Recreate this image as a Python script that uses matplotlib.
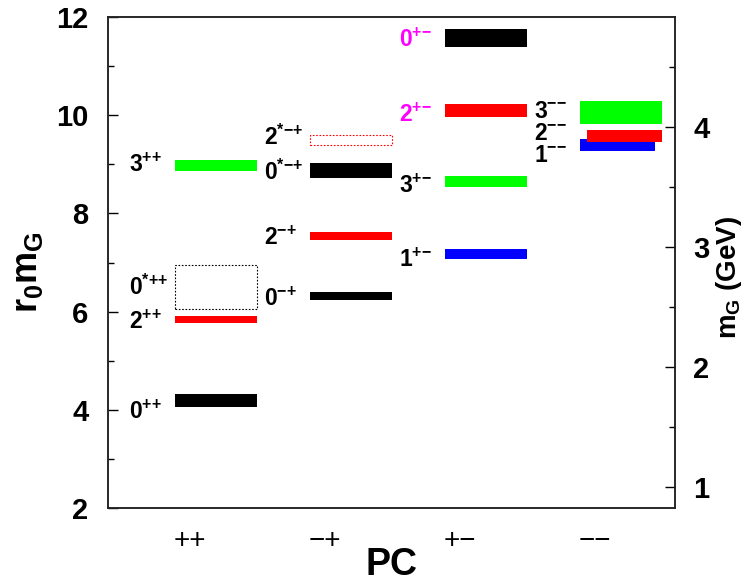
import matplotlib
matplotlib.use("Agg")
import matplotlib.pyplot as plt
from matplotlib.ticker import MultipleLocator

plt.rcParams['font.family'] = ['Liberation Sans', 'DejaVu Sans']
plt.rcParams['font.weight'] = 'bold'
plt.rcParams['mathtext.default'] = 'regular'

# ---- data: glueball levels (r0 * m_G) per PC sector -------------------------------------------
PC_LABELS = ["++", "\u2212+", "+\u2212", "\u2212\u2212"]
state_pc = [0, 0, 0, 0, 1, 1, 1, 1, 2, 2, 2, 2, 3, 3, 3]
state_J = ["0", "2", "0", "3", "0", "2", "0", "2", "1", "3", "2", "0", "1", "2", "3"]
state_star = [False, False, True, False, False, False, True, True, False, False, False, False, False, False, False]
mass = [4.20, 5.84, 6.50, 8.98, 6.31, 7.54, 8.87, 9.49, 7.17, 8.65, 10.09, 11.56, 9.39, 9.58, 10.05]
err = [0.13, 0.08, 0.45, 0.11, 0.08, 0.09, 0.15, 0.10, 0.095, 0.11, 0.135, 0.18, 0.12, 0.12, 0.24]
R0_INV = 0.410                                               # GeV, right-axis conversion

# ---- styles / layout -------------------------------------------------------------------------
col = {"0": "black", "1": "#0000ff", "2": "#ff0000", "3": "#00ff00"}
dotted = [False, False, True, False, False, False, False, True, False, False, False, False, False, False, False]
lab_col = ["black"] * 10 + ["#ff00ff", "#ff00ff"] + ["black"] * 3
lab_base = [3.83, 5.66, 6.34, 8.84, 6.12, 7.36, 8.68, 9.39, 6.91, 8.41, 9.86, 11.39, 9.05, 9.49, 9.93]
x_lo = [-0.107] * 15
x_hi = [0.5] * 15
x_lo[13] = -0.056                                            # 2-- bar starts a bit right
x_hi[12] = 0.446                                             # 1-- bar ends a bit left

fig = plt.figure(figsize=(7.45, 5.82), dpi=100)
ax = fig.add_axes([0.145, 0.1266, 0.761, 0.8447])
ax.set_xlim(0.396, 4.596)
ax.set_ylim(2, 12)

for i in range(len(mass)):
    c = state_pc[i] + 1
    x0, x1 = c + x_lo[i], c + x_hi[i]
    if dotted[i]:
        ax.barh(mass[i], x1 - x0, left=x0, height=2 * err[i], fill=False,
                edgecolor=col[state_J[i]], linestyle=(0, (1.5, 1.5)), lw=0.8)
    else:
        ax.barh(mass[i], x1 - x0, left=x0, height=2 * err[i], color=col[state_J[i]], lw=0)
    sup = ("*" if state_star[i] else "") + PC_LABELS[state_pc[i]].replace("\u2212", "-")
    lab = state_J[i] + "$^{" + "".join("{%s}" % ch for ch in sup) + "}$"
    ax.text(c - 0.45, lab_base[i], lab, ha="left", va="baseline", fontsize=16.5,
            fontweight="bold", color=lab_col[i])

ax.yaxis.set_major_locator(MultipleLocator(2))
ax.yaxis.set_minor_locator(MultipleLocator(1))
ax.tick_params(axis="y", which="major", direction="in", length=7, width=1, labelsize=21, pad=14)
ax.tick_params(axis="y", which="minor", direction="in", length=4, width=1)
ax.set_xticks(range(1, 5))
ax.set_xticklabels(PC_LABELS, fontsize=20, fontweight="normal")
ax.tick_params(axis="x", length=0, pad=14)
for s in ax.spines.values():
    s.set_linewidth(1.1); s.set_color("#222222")

ax2 = ax.twinx()
ax2.set_ylim(2 * R0_INV, 12 * R0_INV)
ax2.yaxis.set_major_locator(MultipleLocator(1))
ax2.yaxis.set_minor_locator(MultipleLocator(0.5))
ax2.tick_params(axis="y", which="major", direction="in", length=7, width=1, labelsize=21, pad=13)
ax2.tick_params(axis="y", which="minor", direction="in", length=4, width=1)
for s in ax2.spines.values():
    s.set_linewidth(1.1); s.set_color("#222222")

fig.text(28 / 745, 1 - 272 / 582, "r$_0$m$_G$", rotation=90, ha="center", va="center",
         fontsize=26, fontweight="bold")
fig.text(729 / 745, 1 - 277 / 582, "m$_G$ (GeV)", rotation=90, ha="center", va="center",
         fontsize=20, fontweight="bold")
fig.text(391 / 745, 7 / 582, "PC", ha="center", va="baseline", fontsize=27, fontweight="bold")

fig.savefig("out.png", dpi=100)
